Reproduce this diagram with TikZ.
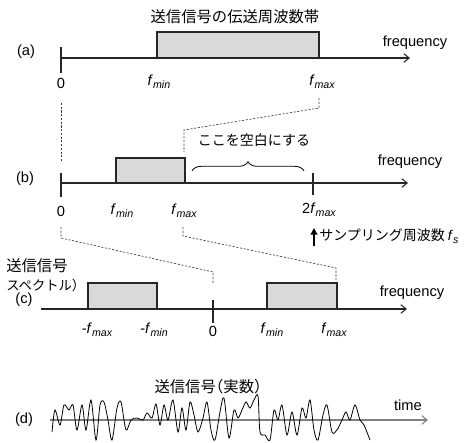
\documentclass[tikz,border=0pt]{standalone}
\usepackage{fontspec}
\setmainfont{Liberation Sans}
\newfontfamily\jp{Noto Sans CJK JP}
\usetikzlibrary{arrows.meta,decorations.pathreplacing}
\newcommand{\fsb}[1]{\textit{f}\raisebox{-0.4ex}{\fontsize{8}{9}\selectfont\itshape #1}}
\begin{document}
\begin{tikzpicture}[x=0.75pt,y=-0.75pt,
  axis/.style={draw=black!85,line width=0.8pt,-{Straight Barb[length=4pt,width=6.5pt]}},
  tk/.style={draw=black!85,line width=0.8pt},
  band/.style={draw=black!85,fill=gray!30,line width=0.8pt},
  guide/.style={draw=black!75,line width=0.5pt,dash pattern=on 1.6pt off 1.2pt},
  lbl/.style={font=\fontsize{11}{13}\selectfont,inner sep=0pt},
  jlbl/.style={font=\jp\fontsize{11.5}{13}\selectfont,inner sep=0pt},
  jsm/.style={font=\jp\fontsize{10.5}{12}\selectfont,inner sep=0pt},
  wave/.style={draw=black,line width=0.6pt}]
\useasboundingbox (0,0) rectangle (469,443);

% ---------- (a)
\node[jlbl] (ta) at (235,17) {送信信号の伝送周波数帯};
\draw[band] (157,32) rectangle (319,58);
\coordinate (a0) at (61,58);
\coordinate (aend) at (410,58);
\draw[axis] (a0) -- (aend);
\draw[tk] (61,47) -- (61,73);
\node[lbl] (fa) at (415,43) {frequency};
\node[lbl] (la) at (26,52) {(a)};
\node[lbl] (za) at (61,83) {0};
\node[lbl] (fmina) at (159,82) {\fsb{min}};
\node[lbl] (fmaxa) at (322,82) {\fsb{max}};

% guides (a)-(b)
\coordinate (g1a) at (61,103);
\coordinate (g1b) at (61,162);
\draw[guide] (g1a) -- (g1b);
\coordinate (g2a) at (319,98);
\coordinate (g2b) at (319,108);
\coordinate (g2c) at (184,130);
\coordinate (g2d) at (184,152);
\draw[guide] (g2a) -- (g2b) -- (g2c) -- (g2d);

% ---------- (b)
\draw[band] (116,158) rectangle (185,183);
\coordinate (b0) at (61,183);
\coordinate (bend) at (408,183);
\draw[axis] (b0) -- (bend);
\draw[tk] (61,173) -- (61,197);
\draw[tk] (313,173) -- (313,195);
\node[lbl] (fb) at (410,162) {frequency};
\node[lbl] (lb) at (25,179) {(b)};
\node[lbl] (zb) at (61,211) {0};
\node[lbl] (fminb) at (122,211) {\fsb{min}};
\node[lbl] (fmaxb) at (184,211) {\fsb{max}};
\node[lbl] (f2b) at (319,210) {2\fsb{max}};
\draw[line width=0.6pt,decorate,decoration={brace,amplitude=7pt}] (192,171) -- (304,171);
\node[jsm] (blank) at (254,140) {ここを空白にする};
\coordinate (fsA) at (314,246);
\coordinate (fsB) at (314,228);
\draw[line width=1.4pt,-{Triangle[length=5pt,width=5pt]}] (fsA) -- (fsB);
\node[jsm,anchor=west] (fs) at (319,236) {サンプリング周波数\ {\rmfamily\fsb{s}}};

% guides (b)-(c)
\coordinate (g3a) at (61,227);
\coordinate (g3b) at (61,238);
\coordinate (g3c) at (213,272);
\coordinate (g3d) at (213,283);
\draw[guide] (g3a) -- (g3b) -- (g3c) -- (g3d);
\coordinate (g4a) at (183,227);
\coordinate (g4b) at (183,236);
\coordinate (g4c) at (336,268);
\coordinate (g4d) at (336,283);
\draw[guide] (g4a) -- (g4b) -- (g4c) -- (g4d);

% ---------- (c)
\draw[band] (88,283) rectangle (157,309);
\draw[band] (267,283) rectangle (337,309);
\coordinate (c0) at (41,309);
\coordinate (cend) at (407,309);
\draw[axis] (c0) -- (cend);
\draw[tk] (213,300) -- (213,323);
\node[lbl] (fc) at (412,293) {frequency};
\node[jlbl,anchor=west] (sc1) at (6,266) {送信信号};
\node[font=\jp\fontsize{10}{12}\selectfont,inner sep=0pt,anchor=west] (sc2) at (6,285) {スペクトル）};
\node[lbl] (lc) at (24,300) {(c)};
\node[lbl] (m1) at (97,330) {-\fsb{max}};
\node[lbl] (m2) at (154,330) {-\fsb{min}};
\node[lbl] (zc) at (213,331) {0};
\node[lbl] (p1) at (272,330) {\fsb{min}};
\node[lbl] (p2) at (334,330) {\fsb{max}};

% ---------- (d)
\node[jlbl] (td) at (212,387) {送信信号\hspace{-0.5em}（実数）\hspace{-0.5em}};
\coordinate (d0) at (50,420);
\coordinate (dend) at (428,420);
\draw[axis,draw=black!50] (d0) -- (dend);
\node[lbl] (ti) at (408,405) {time};
\node[lbl] (ld) at (24,420) {(d)};
\draw[wave] plot[smooth,tension=0.5] coordinates {
(52,432)(55,410)(60,425)(64,405)(69,410)(73,405)(77,430)(82,405)(86,430)(91,400)
(96,440)(100,405)(104,402)(108,420)(112,440)(117,408)(121,402)(126,430)(131,420)
(137,418)(143,420)(147,413)(152,418)(156,404)(160,425)(164,405)(168,420)(173,400)
(178,432)(182,408)(186,430)(190,402)(194,415)(198,432)(203,418)(207,402)(211,430)
(215,440)(220,412)(224,398)(229,438)(234,410)(238,418)(242,410)(246,402)(250,408)
(254,400)(258,396)(260,432)(265,435)(270,440)(274,410)(278,420)(282,405)(287,435)
(292,412)(297,435)(302,408)(306,418)(310,400)(314,430)(318,440)(323,415)(327,405)
(332,432)(337,430)(342,420)(346,412)(350,420)(355,405)(360,420)(364,425)(370,440)};
\end{tikzpicture}
\end{document}
